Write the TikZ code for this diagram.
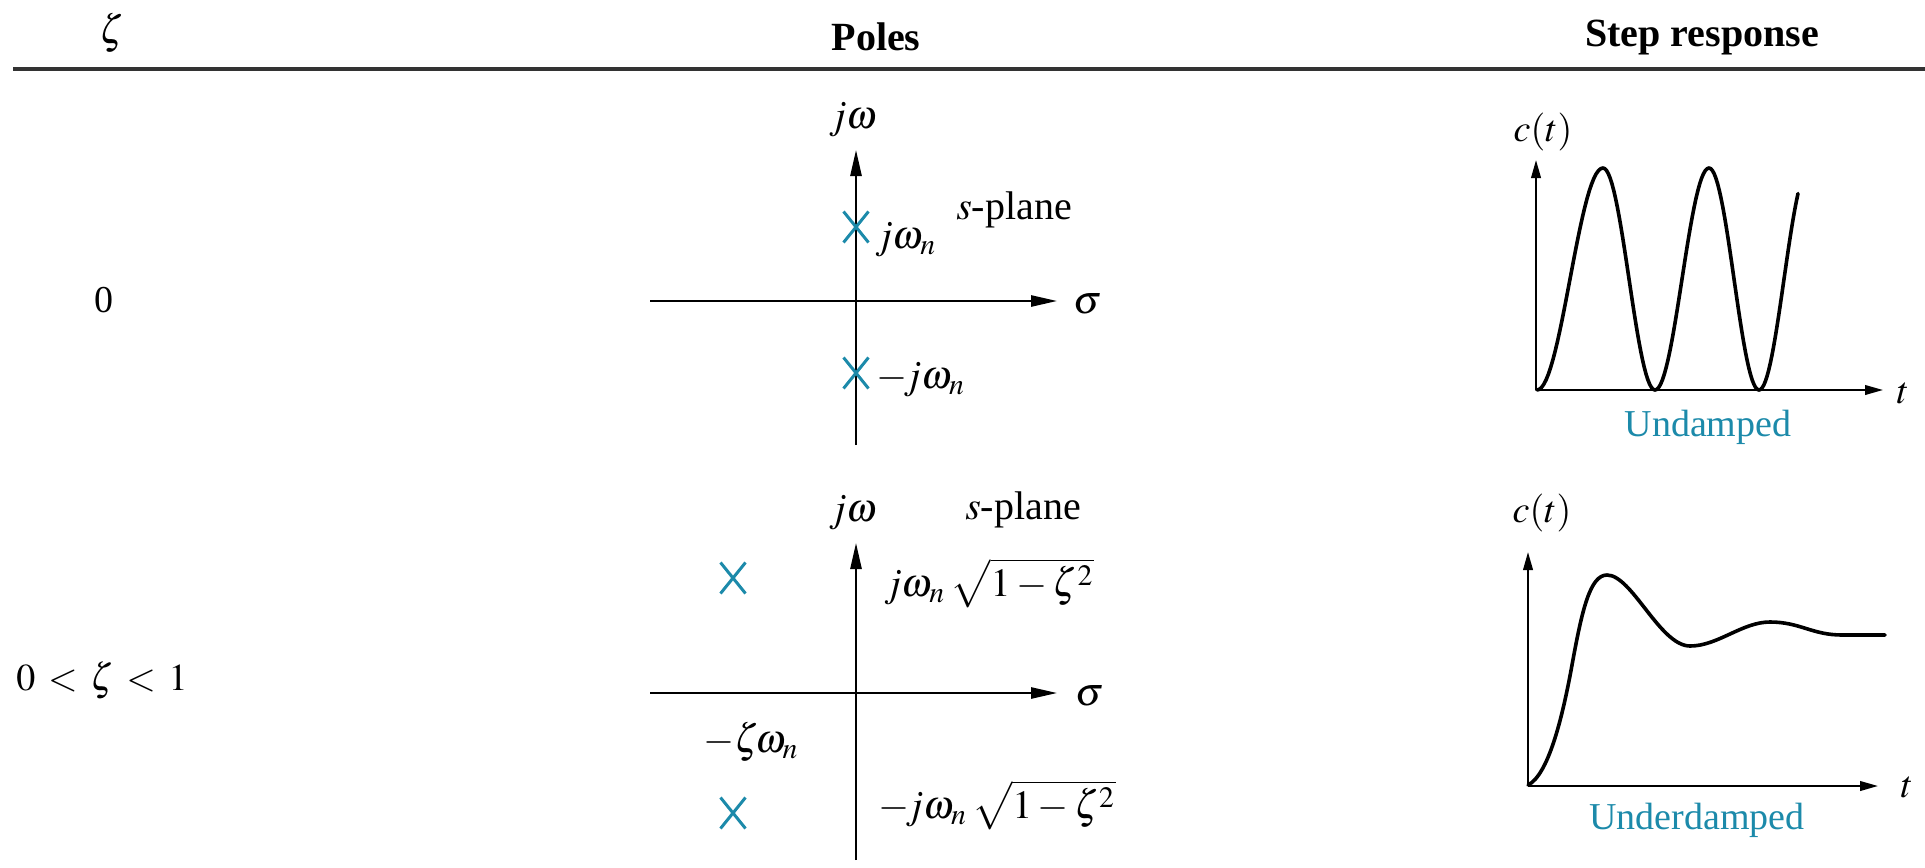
\documentclass[tikz,border=0pt]{standalone}
\usepackage{mathptmx}
\usepackage{fontspec}
\setmainfont{Liberation Serif}
\usetikzlibrary{arrows.meta,shapes.misc}
\definecolor{polec}{RGB}{28,138,170}
\tikzset{
  ax/.style={line width=0.5pt, -{Triangle[length=6.5pt,width=2.8pt]}},
  axs/.style={line width=0.5pt, -{Triangle[length=4.5pt,width=2.4pt]}},
  curve/.style={line width=0.9pt, line join=round, line cap=round},
  polemark/.style={cross out, draw=polec, line width=0.75pt, minimum width=5.5pt, minimum height=7pt, inner sep=0pt},
  lbl/.style={inner sep=0pt, font=\fontsize{10}{12}\selectfont},
  txt/.style={inner sep=0pt, font=\fontsize{9.5}{11}\selectfont},
  hdr/.style={inner sep=0pt, font=\fontsize{10}{12}\selectfont\bfseries},
  caplbl/.style={txt, text=polec},
}
\begin{document}
\begin{tikzpicture}[x=0.25pt,y=-0.25pt]
\useasboundingbox (0,0) rectangle (1925,867);
% header
\node[lbl] (hz) at (112,33) {$\zeta$};
\node[hdr] (hp) at (876,37) {Poles};
\node[hdr] (hs) at (1702,38) {Step response};
\coordinate (hl) at (13,69);
\coordinate (hr) at (1925,69);
\draw[line width=0.8pt, black!80] (hl) -- (hr);
% row labels
\node[txt] (r1) at (104,300) {0};
\node[txt] (r2) at (102,680) {$0\,<\,\zeta\,<\,1$};
% ---- s-plane 1
\coordinate (a1l) at (650,301);
\coordinate (a1r) at (1057,301);
\coordinate (a1b) at (856,445);
\coordinate (a1t) at (856,150);
\draw[ax] (a1l) -- (a1r);
\draw[ax] (a1b) -- (a1t);
\node[lbl] (jw1) at (853,120) {$j\omega$};
\node[lbl] (sp1) at (1014,210) {$s$-plane};
\node[lbl] (sg1) at (1088,304) {$\sigma$};
\node[polemark] (p1u) at (856,227) {};
\node[polemark] (p1d) at (856,373) {};
\node[lbl,anchor=west] (l1u) at (874,240) {$j\omega_n$};
\node[lbl,anchor=west] (l1d) at (876,380) {$-\!j\omega_n$};
% ---- s-plane 2
\coordinate (a2l) at (650,693);
\coordinate (a2r) at (1057,693);
\coordinate (a2b) at (856,860);
\coordinate (a2t) at (856,543);
\draw[ax] (a2l) -- (a2r);
\draw[ax] (a2b) -- (a2t);
\node[lbl] (jw2) at (853,513) {$j\omega$};
\node[lbl] (sp2) at (1023,510) {$s$-plane};
\node[lbl] (sg2) at (1090,696) {$\sigma$};
\node[polemark] (p2u) at (733,578) {};
\node[polemark] (p2d) at (733,813) {};
\node[lbl,anchor=west] (l2u) at (883,583) {$j\omega_n\,\sqrt{1-\zeta^2}$};
\node[lbl,anchor=west] (l2d) at (878,805) {$-\!j\omega_n\,\sqrt{1-\zeta^2}$};
\node[lbl,anchor=west] (l2z) at (703,742) {$-\zeta\!\omega_n$};
% ---- step response 1
\coordinate (o1) at (1536,390);
\coordinate (o1t) at (1536,160);
\coordinate (o1r) at (1883,390);
\draw[axs] (o1) -- (o1t);
\draw[axs] (o1) -- (o1r);
\node[txt] (c1) at (1543,132) {$c(t)$};
\node[txt] (t1) at (1903,393) {$t$};
\node[caplbl] (u1) at (1708,427) {Undamped};
\draw[curve] plot[domain=0:1,samples=30] ({1537+66*\x},{390-222*(1-cos(180*\x))/2})
  -- plot[domain=0:1,samples=30] ({1603+52*\x},{168+222*(1-cos(180*\x))/2})
  -- plot[domain=0:1,samples=30] ({1655+54*\x},{390-222*(1-cos(180*\x))/2})
  -- plot[domain=0:1,samples=30] ({1709+50*\x},{168+222*(1-cos(180*\x))/2})
  -- plot[domain=0:0.78,samples=25] ({1759+50*\x},{390-222*(1-cos(180*\x))/2});
% ---- step response 2
\coordinate (o2) at (1528,786);
\coordinate (o2t) at (1528,552);
\coordinate (o2r) at (1878,786);
\draw[axs] (o2) -- (o2t);
\draw[axs] (o2) -- (o2r);
\node[txt] (c2) at (1542,513) {$c(t)$};
\node[txt] (t2) at (1907,787) {$t$};
\node[caplbl] (u2) at (1697,820) {Underdamped};
\draw[curve] (1528,785) .. controls (1548,775) and (1562,720) .. (1572,665)
  .. controls (1582,610) and (1590,575) .. (1607,575)
  .. controls (1632,575) and (1660,646) .. (1690,646)
  .. controls (1718,646) and (1742,622) .. (1770,622)
  .. controls (1800,622) and (1812,635) .. (1842,635)
  -- (1885,635);
\end{tikzpicture}
\end{document}
